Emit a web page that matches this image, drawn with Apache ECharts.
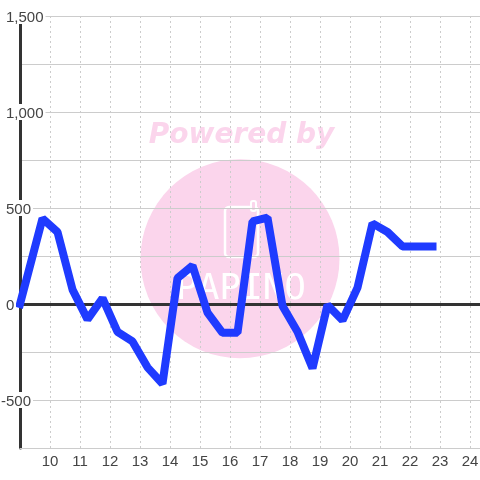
<!DOCTYPE html>
<html>
<head>
<meta charset="utf-8">
<style>html,body{margin:0;padding:0;background:#fff}#c{width:480px;height:480px}</style>
<script src="https://cdn.jsdelivr.net/npm/echarts@6/dist/echarts.min.js"></script>
</head>
<body>
<div id="c"></div>
<script>
const hours = [9, 9.75, 10.25, 10.75, 11.25, 11.75, 12.25, 12.75, 13.25, 13.75, 14.25, 14.75, 15.25, 15.75, 16.25, 16.75, 17.25, 17.75, 18.25, 18.75, 19.25, 19.75, 20.25, 20.75, 21.25, 21.75, 22.25, 22.75];
const values = [0, 445, 375, 75, -80, 30, -145, -195, -330, -415, 135, 200, -45, -150, -150, 430, 450, -10, -145, -335, -5, -85, 85, 420, 375, 300, 300, 300];
const watermarkText = 'Powered by';
const logoText = 'PAPINO';

const labelFont = {fontFamily: '"Liberation Sans", Arial, sans-serif', fontSize: 15, color: '#444'};
const xBase = {type: 'value', min: 9, max: 24.3333, interval: 1};
const chart = echarts.init(document.getElementById('c'), null, {renderer: 'canvas'});
chart.setOption({
  animation: false,
  backgroundColor: '#fff',
  grid: {left: 20, right: 0, top: 16, bottom: 32, containLabel: false, outerBoundsMode: 'none'},
  graphic: [
    {type: 'circle', z: -10, shape: {cx: 240, cy: 258.7, r: 99.5}, style: {fill: '#fbd5ec'}},
    {type: 'text', z: -10, style: {x: 241.5, y: 135.5, text: watermarkText, align: 'center', verticalAlign: 'middle', fill: '#fbd5ec',
      font: 'italic bold 28px "DejaVu Sans"'}},
    {type: 'rect', z: -9, shape: {x: 225, y: 207, width: 33, height: 50, r: 4}, style: {fill: 'none', stroke: '#fff', lineWidth: 2.5}},
    {type: 'rect', z: -9, shape: {x: 251, y: 201, width: 5, height: 10, r: 2}, style: {fill: '#fbd5ec', stroke: '#fff', lineWidth: 2}},
    {type: 'text', z: -9, style: {x: 241, y: 290, text: logoText, align: 'center', verticalAlign: 'middle', fill: '#fff',
      font: '36px "DejaVu Sans Mono"'}}
  ],
  xAxis: [
    Object.assign({}, xBase, {
      position: 'bottom',
      axisLine: {show: true, onZero: false, lineStyle: {color: '#ccc', width: 1}},
      axisTick: {show: false},
      axisLabel: Object.assign({}, labelFont, {margin: 6, showMinLabel: false, showMaxLabel: false, hideOverlap: false,
        formatter: v => Number.isInteger(v) && v > 9 ? String(v) : ''}),
      splitLine: {show: true, showMinLine: false, showMaxLine: false, lineStyle: {color: '#ccc', type: [2, 3], width: 1}}
    }),
    Object.assign({}, xBase, {
      position: 'top',
      axisLine: {show: true, onZero: true, lineStyle: {color: '#333', width: 3}},
      axisTick: {show: false},
      axisLabel: {show: false},
      splitLine: {show: false}
    })
  ],
  yAxis: {
    type: 'value', min: -750, max: 1500, interval: 250,
    axisLine: {show: true, onZero: false, lineStyle: {color: '#333', width: 3}},
    axisTick: {show: false},
    axisLabel: {
      margin: 19, align: 'left', showMinLabel: true, showMaxLabel: true, hideOverlap: false,
      formatter: v => {
        if (v % 500 !== 0) return '';
        const s = Math.abs(v).toLocaleString('en-US');
        return v < 0 ? '{neg|-' + s + '}' : '{pos|' + s + '}';
      },
      rich: {
        pos: Object.assign({}, labelFont, {backgroundColor: '#fff', height: 13, lineHeight: 13, padding: [3, 2, 0, 5]}),
        neg: Object.assign({}, labelFont, {backgroundColor: '#fff', height: 13, lineHeight: 13, padding: [3, 2, 0, 0]})
      }
    },
    splitLine: {show: true, lineStyle: {color: '#ccc', width: 1}}
  },
  series: [{
    type: 'line',
    xAxisIndex: 0,
    data: hours.map((h, i) => [h, values[i]]),
    showSymbol: false,
    symbol: 'none',
    clip: false,
    lineStyle: {color: '#1f3bff', width: 8, cap: 'square', join: 'bevel'}
  }]
});
</script>
</body>
</html>
